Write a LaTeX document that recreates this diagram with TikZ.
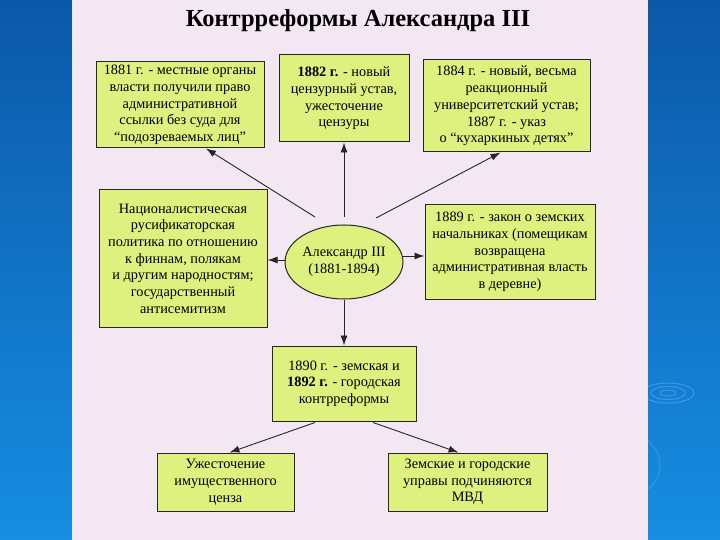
\documentclass[tikz,border=0pt]{standalone}
\usepackage{fontspec}
\setmainfont{Liberation Serif}
\usetikzlibrary{arrows.meta,shapes.geometric,calc}
\definecolor{boxg}{RGB}{222,240,125}
\definecolor{panel}{RGB}{244,231,244}
\definecolor{bgtop}{RGB}{12,88,168}
\definecolor{bgbot}{RGB}{22,142,226}
\definecolor{ripple}{RGB}{95,175,238}
\begin{document}
\begin{tikzpicture}[x=1pt,y=-1pt,
  box/.style={draw=black!85,line width=1pt,fill=boxg,inner sep=0pt,align=center,
    font=\fontsize{14.3}{16.7}\selectfont},
  arr/.style={-{Latex[length=10pt,width=7pt]},line width=0.9pt,draw=black!85},
  rip/.style={draw=ripple,opacity=.55,line width=1pt}]
\useasboundingbox (0,0) rectangle (720,540);
\fill[top color=bgtop,bottom color=bgbot] (0,0) rectangle (720,540);
\draw[rip] (668,393) ellipse (8 and 3);
\draw[rip] (668,393) ellipse (17 and 6.5);
\draw[rip] (668,393) ellipse (26 and 10);
\draw[rip,opacity=.4] (630,465) ++(-55:30) arc (-55:55:30);
\fill[panel] (72,0) rectangle (648,540);
\node[font=\bfseries\fontsize{24.5}{26}\selectfont] (T) at (358,21) {Контрреформы Александра III};
\node[box,minimum width=168,minimum height=86] (B1) at (180,105)
  {1881 г. - местные органы\\власти получили право\\административной\\ссылки без суда для\\“подозреваемых лиц”};
\node[box,minimum width=130,minimum height=87] (B2) at (344,98.5)
  {\textbf{1882 г.} - новый\\цензурный устав,\\ужесточение\\цензуры};
\node[box,minimum width=167,minimum height=92] (B3) at (506.5,106)
  {1884 г. - новый, весьма\\реакционный\\университетский устав;\\1887 г. - указ\\о “кухаркиных детях”};
\node[box,minimum width=168,minimum height=137] (B4) at (183,258.5)
  {Националистическая\\русификаторская\\политика по отношению\\к финнам, полякам\\и другим народностям;\\государственный\\антисемитизм};
\node[box,ellipse,minimum width=118,minimum height=74] (E) at (344,262)
  {Александр III\\(1881-1894)};
\node[box,minimum width=170,minimum height=94] (B5) at (510,252)
  {1889 г. - закон о земских\\начальниках (помещикам\\возвращена\\административная власть\\в деревне)};
\node[box,minimum width=144,minimum height=75] (B6) at (344,383.5)
  {1890 г. - земская и\\\textbf{1892 г.} - городская\\контрреформы};
\node[box,minimum width=137,minimum height=58] (B7) at (225.5,482)
  {Ужесточение\\имущественного\\ценза};
\node[box,minimum width=159,minimum height=58] (B8) at (467.5,482)
  {Земские и городские\\управы подчиняются\\МВД};
\draw[arr] ([shift={(-29,-45)}]E.center) -- ([shift={(26,0)}]B1.south);
\draw[arr] ([shift={(0,-45)}]E.center) -- (B2.south);
\draw[arr] ([shift={(32,-44)}]E.center) -- ([shift={(-6,0)}]B3.south);
\draw[arr] ([shift={(-58,-2)}]E.center) -- ([shift={(0,1.5)}]B4.east);
\draw[arr] ([shift={(58,-6)}]E.center) -- ([shift={(0,4)}]B5.west);
\draw[arr] (E.south) -- (B6.north);
\draw[arr] ([shift={(-29,1)}]B6.south) -- ([shift={(4,0)}]B7.north);
\draw[arr] ([shift={(29,1)}]B6.south) -- ([shift={(-9,0)}]B8.north);
\end{tikzpicture}
\end{document}
